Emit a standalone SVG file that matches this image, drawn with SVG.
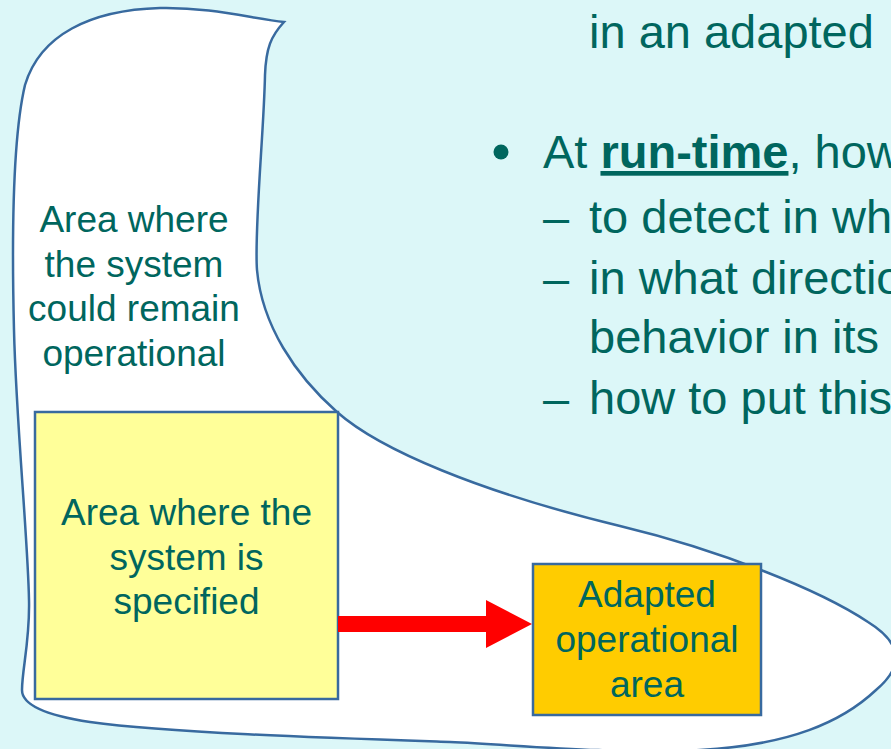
<svg xmlns="http://www.w3.org/2000/svg" width="891" height="749" viewBox="0 0 891 749">
  <style>
    .bg { fill: #DCF7F8; }
    .outline { stroke: #386A9F; stroke-width: 2.5; }
    .label { font-family: "Liberation Sans", Arial, sans-serif; font-size: 37px; fill: #00665E; text-anchor: middle; }
    .body { font-family: "Liberation Sans", Arial, sans-serif; font-size: 47px; fill: #00665E; }
    .strong { font-weight: bold; text-decoration: underline; }
  </style>

  <rect class="bg" x="0" y="0" width="891" height="749"/>

  <!-- operational region: the boot-shaped outline -->
  <g id="operational-area">
    <path class="outline" fill="#FFFFFF"
      d="M 284 22
         C 271 36, 266 48, 265 75
         C 264 130, 254 230, 257 270
         C 262 325, 295 375, 337 412
         C 380 450, 480 492, 620 526
         C 720 550, 820 590, 868 622
         C 905 645, 902 668, 876 690
         C 842 722, 790 745, 700 750
         C 600 754, 520 745, 450 742
         C 330 738, 170 733, 90 722
         C 50 716, 22 706, 22 690
         C 22 670, 30 640, 29 600
         C 28 540, 16 420, 14 330
         C 12 250, 12 140, 25 85
         C 40 35, 90 10, 160 8
         C 210 7, 250 18, 284 22 Z"/>
    <text class="label" x="134" y="232">Area where</text>
    <text class="label" x="134" y="277">the system</text>
    <text class="label" x="134" y="321">could remain</text>
    <text class="label" x="134" y="366">operational</text>
  </g>

  <!-- specified region -->
  <g id="specified-area">
    <rect class="outline" x="35" y="412" width="303" height="287" fill="#FFFF99"/>
    <text class="label" x="186.5" y="525">Area where the</text>
    <text class="label" x="186.5" y="570">system is</text>
    <text class="label" x="186.5" y="614">specified</text>
  </g>

  <!-- adapted region -->
  <g id="adapted-area">
    <rect class="outline" x="533" y="564" width="228" height="151" fill="#FFCC00"/>
    <text class="label" x="647" y="607">Adapted</text>
    <text class="label" x="647" y="652">operational</text>
    <text class="label" x="647" y="697">area</text>
  </g>

  <!-- connector -->
  <g id="connectors">
    <polygon fill="#FF0000" points="338,616 486,616 486,600 532,624 486,648 486,632 338,632"/>
  </g>

  <!-- bullet text -->
  <g id="bullets">
    <text class="body" x="589" y="48">in an adapted</text>
    <circle cx="501" cy="152" r="7.5" fill="#00665E"/>
    <text class="body" x="543" y="168">At <tspan class="strong">run-time</tspan>, how</text>
    <text class="body" x="543" y="233">–</text>
    <text class="body" x="589" y="233">to detect in wh</text>
    <text class="body" x="543" y="294">–</text>
    <text class="body" x="589" y="294">in what directio</text>
    <text class="body" x="589" y="353">behavior in its</text>
    <text class="body" x="543" y="414">–</text>
    <text class="body" x="589" y="414">how to put this</text>
  </g>
</svg>
